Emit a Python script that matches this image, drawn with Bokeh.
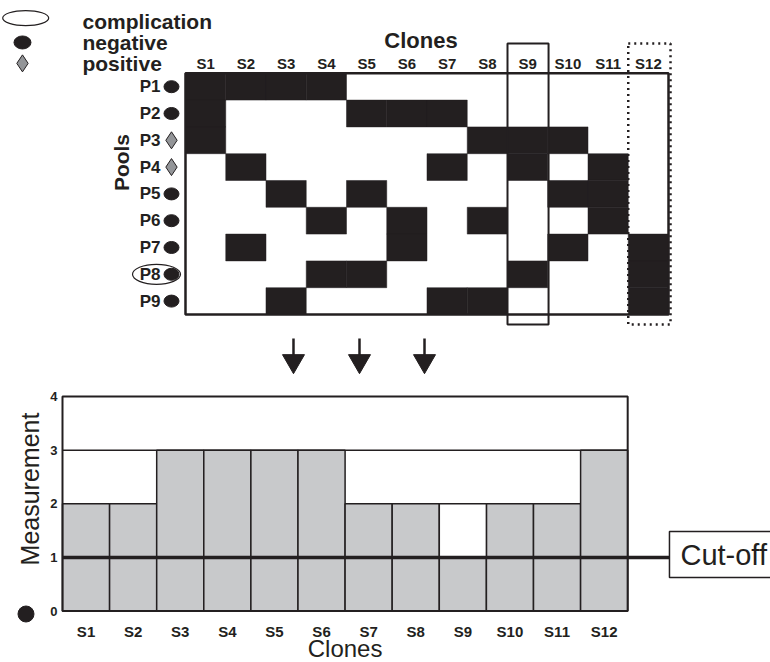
import math
from bokeh.plotting import figure
from bokeh.models import Range1d
from bokeh.core.properties import value
from bokeh.embed import file_html
from bokeh.resources import INLINE

# ---------------- data ----------------
clones = ["S1", "S2", "S3", "S4", "S5", "S6", "S7", "S8", "S9", "S10", "S11", "S12"]
pools = ["P1", "P2", "P3", "P4", "P5", "P6", "P7", "P8", "P9"]
pool_status = ["negative", "negative", "positive", "positive", "negative",
               "negative", "negative", "negative", "negative"]
pool_clones = [
    ["S1", "S2", "S3", "S4"],
    ["S1", "S5", "S6", "S7"],
    ["S1", "S8", "S9", "S10"],
    ["S2", "S7", "S9", "S11"],
    ["S3", "S5", "S10", "S11"],
    ["S4", "S6", "S8", "S11"],
    ["S2", "S6", "S10", "S12"],
    ["S4", "S5", "S9", "S12"],
    ["S3", "S7", "S8", "S12"],
]
complication_pool = "P8"
boxed_clone = "S9"
dotted_clone = "S12"
measurement = [2, 2, 3, 3, 3, 3, 2, 2, 1, 2, 2, 3]
cutoff = 1
y_ticks = [0, 1, 2, 3, 4]
legend_labels = ["complication", "negative", "positive"]

# ---------------- styles ----------------
INK = "#231f20"
GREY_BAR = "#c8c9cb"
GREY_DIAMOND = "#939598"
FONT = value("Liberation Sans")

W, H = 770, 662
p = figure(width=W, height=H, toolbar_location=None, output_backend="svg",
           x_axis_type=None, y_axis_type=None, min_border=0, title=None,
           x_range=Range1d(-4.596, 14.534), y_range=Range1d(-12.985, 11.716))
p.extra_x_ranges = {"bot": Range1d(-1.3163, 15.032)}
p.extra_y_ranges = {"bot": Range1d(-0.9608, 11.39)}
p.outline_line_color = None
p.background_fill_color = "white"
p.border_fill_color = "white"

ncol = len(clones)
nrow = len(pools)
cidx = {c: i for i, c in enumerate(clones)}

# ---------------- top panel: pooling matrix ----------------
cl, cr, cb, ct = [], [], [], []
for j, members in enumerate(pool_clones):
    for c in members:
        i = cidx[c]
        cl.append(i)
        cr.append(i + 1)
        cb.append(nrow - 1 - j)
        ct.append(nrow - j)
p.quad(left=cl, right=cr, bottom=cb, top=ct, fill_color=INK, line_color=INK, line_width=0.5)

# grid frame
p.quad(left=0, right=ncol, bottom=0, top=nrow, fill_color=None, line_color=INK, line_width=2.5)

# boxed clone (solid) and dotted clone
bi = cidx[boxed_clone]
p.quad(left=bi, right=bi + 1.02, bottom=-0.373, top=10.11, fill_color=None,
       line_color=INK, line_width=2)
di = cidx[dotted_clone]
p.quad(left=di, right=di + 1.05, bottom=-0.373, top=10.11, fill_color=None,
       line_color=INK, line_width=2.5, line_dash="2 4")

# column labels
p.text(x=[i + 0.5 for i in range(ncol)], y=[9.366] * ncol, text=clones,
       text_font=FONT, text_font_style="bold", text_font_size="15px",
       text_align="center", text_baseline="middle", text_color=INK)
p.text(x=[5.85], y=[10.236], text=["Clones"], text_font=FONT, text_font_style="bold",
       text_font_size="22px", text_align="center", text_baseline="middle", text_color=INK)

# row labels and markers
row_y = [nrow - j - 0.5 for j in range(nrow)]
p.text(x=[-0.621] * nrow, y=row_y, text=pools, text_font=FONT, text_font_style="bold",
       text_font_size="17px", text_align="right", text_baseline="middle", text_color=INK)
neg_y = [row_y[j] for j in range(nrow) if pool_status[j] == "negative"]
pos_y = [row_y[j] for j in range(nrow) if pool_status[j] == "positive"]
p.ellipse(x=[-0.348] * len(neg_y), y=neg_y, width=15, height=12,
          width_units="screen", height_units="screen", fill_color=INK, line_color=INK)
p.scatter(x=[-0.348] * len(pos_y), y=pos_y, marker="diamond", size=17,
          fill_color=GREY_DIAMOND, line_color=INK, line_width=1)
cj = pools.index(complication_pool)
p.ellipse(x=[-0.72], y=[row_y[cj]], width=48, height=20,
          width_units="screen", height_units="screen", fill_color=None,
          line_color=INK, line_width=1.2)
p.text(x=[-1.59], y=[5.67], text=["Pools"], angle=math.pi / 2, text_font=FONT,
       text_font_style="bold", text_font_size="21px", text_align="center",
       text_baseline="middle", text_color=INK)

# legend
p.ellipse(x=[-3.97], y=[11.06], width=46, height=15, width_units="screen",
          height_units="screen", fill_color=None, line_color=INK, line_width=1.2)
p.ellipse(x=[-4.05], y=[10.15], width=17, height=13, width_units="screen",
          height_units="screen", fill_color=INK, line_color=INK)
p.scatter(x=[-4.05], y=[9.37], marker="diamond", size=17,
          fill_color=GREY_DIAMOND, line_color=INK, line_width=1)
p.text(x=[-2.56] * 3, y=[10.933, 10.149, 9.366], text=legend_labels, text_font=FONT,
       text_font_style="bold", text_font_size="21px", text_align="left",
       text_baseline="middle", text_color=INK)

# arrows
ax = [2.683, 4.323, 5.938]
p.segment(x0=ax, y0=[-0.8955] * 3, x1=ax, y1=[-1.60] * 3, line_color=INK, line_width=2.5)
p.scatter(x=ax, y=[-1.735] * 3, marker="inverted_triangle", size=22,
          fill_color=INK, line_color=INK)

# ---------------- bottom panel: measurement bars ----------------
B = dict(x_range_name="bot", y_range_name="bot")
idx = list(range(ncol))
p.quad(left=idx, right=[i + 1 for i in idx], bottom=0, top=measurement,
       fill_color=GREY_BAR, line_color=INK, line_width=1.5, **B)

# envelope: gaps below neighbours' level shown as open boxes
env_l, env_r, env_b, env_t = [], [], [], []
for i, v in enumerate(measurement):
    nb = [measurement[k] for k in (i - 1, i + 1) if 0 <= k < ncol]
    lvl = min(nb)
    if lvl > v:
        env_l.append(i)
        env_r.append(i + 1)
        env_b.append(v)
        env_t.append(lvl)
p.quad(left=env_l, right=env_r, bottom=env_b, top=env_t, fill_color="white",
       line_color=INK, line_width=1.5, **B)
p.segment(x0=[0], y0=[max(measurement)], x1=[ncol], y1=[max(measurement)],
          line_color=INK, line_width=1.5, **B)

# frame
p.quad(left=0, right=ncol, bottom=min(y_ticks), top=max(y_ticks), fill_color=None,
       line_color=INK, line_width=2, **B)

# cut-off line and label box
box_left = 12.887
p.segment(x0=[0], y0=[cutoff], x1=[box_left], y1=[cutoff], line_color=INK, line_width=3.5, **B)
p.quad(left=box_left, right=15.5, bottom=0.625, top=1.483, fill_color="white",
       line_color=INK, line_width=1.5, **B)
p.text(x=[13.12], y=[1.045], text=["Cut-off"], text_font=FONT, text_font_size="29px",
       text_align="left", text_baseline="middle", text_color=INK, **B)

# y tick labels
p.text(x=[-0.106] * len(y_ticks), y=y_ticks, text=[str(t) for t in y_ticks],
       text_font=FONT, text_font_style="bold", text_font_size="13px",
       text_align="right", text_baseline="middle", text_color=INK, **B)
# x tick labels
p.text(x=[i + 0.5 for i in idx], y=[-0.382] * ncol, text=clones, text_font=FONT,
       text_font_style="bold", text_font_size="15px", text_align="center",
       text_baseline="middle", text_color=INK, **B)
# axis titles
p.text(x=[-0.69], y=[2.276], text=["Measurement"], angle=math.pi / 2, text_font=FONT,
       text_font_size="25px", text_align="center", text_baseline="middle",
       text_color=INK, **B)
p.text(x=[6.0], y=[-0.70], text=["Clones"], text_font=FONT, text_font_size="24px",
       text_align="center", text_baseline="middle", text_color=INK, **B)
# marker at baseline
p.scatter(x=[-0.775], y=[-0.056], marker="circle", size=16, fill_color=INK,
          line_color=INK, **B)

open("out.html", "w").write(file_html(p, INLINE))
